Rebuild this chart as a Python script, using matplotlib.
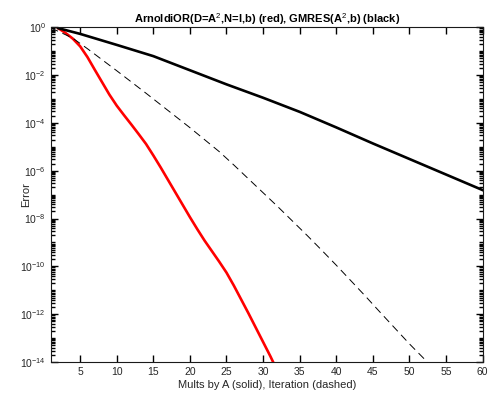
import numpy as np
import matplotlib
matplotlib.use('Agg')
from matplotlib import pyplot as plt
from matplotlib.ticker import LogLocator, NullFormatter

plt.rcParams['font.family'] = ['Liberation Sans', 'DejaVu Sans']
plt.rcParams['mathtext.fontset'] = 'custom'
plt.rcParams['mathtext.rm'] = 'Liberation Sans'
plt.rcParams['mathtext.bf'] = 'Liberation Sans:bold'

# ArnoldiOR (red, solid) - error vs mults by A, log10 values
red_x = [2, 3, 4, 5, 6, 7, 8, 9, 10, 11, 12, 13, 14, 15, 16, 17, 18, 19, 20,
         21, 22, 23, 24, 25, 26, 27, 28, 29, 30, 31, 32]
red_log = [-0.04, -0.24, -0.48, -0.8, -1.25, -1.78, -2.3, -2.82, -3.28,
           -3.68, -4.07, -4.47, -4.88, -5.36, -5.86, -6.38, -6.9, -7.42,
           -7.94, -8.44, -8.92, -9.36, -9.8, -10.26, -10.8, -11.38, -11.96,
           -12.56, -13.16, -13.76, -14.4]

# GMRES (black, solid) - error vs mults by A
blk_x = [2, 5, 10, 15, 20, 25, 30, 35, 40, 45, 50, 55, 60]
blk_log = [-0.04, -0.28, -0.74, -1.21, -1.8, -2.39, -2.95, -3.54,
           -4.19, -4.86, -5.51, -6.16, -6.81]

# GMRES (black, dashed) - error vs iteration
dash_x = [1, 2, 4, 6, 8, 10, 12, 14, 16, 18, 20, 22, 24, 26, 28, 30, 32, 34,
          36, 38, 40, 42, 44, 46, 48, 50, 52, 53]
dash_log = [-0.04, -0.17, -0.46, -0.9, -1.36, -1.82, -2.29, -2.76, -3.24,
            -3.72, -4.2, -4.7, -5.2, -5.76, -6.34, -6.92, -7.5, -8.1, -8.7,
            -9.32, -9.95, -10.6, -11.25, -11.92, -12.58, -13.24, -13.86, -14.2]

fig = plt.figure(figsize=(4.89, 3.94), dpi=100)
ax = fig.add_axes([0.104, 0.081, 0.883, 0.850])

ax.semilogy(red_x, 10.0 ** np.array(red_log), color='red', lw=1.9)
ax.semilogy(blk_x, 10.0 ** np.array(blk_log), color='black', lw=1.9)
ax.semilogy(dash_x, 10.0 ** np.array(dash_log), color='black', lw=0.7,
            dashes=(8, 5))

ax.set_xlim(1, 60)
ax.set_ylim(1e-14, 1)
ax.set_xticks(range(5, 61, 5))
ax.set_yticks([10.0 ** k for k in range(-14, 1, 2)])
ax.yaxis.set_minor_locator(LogLocator(base=10, subs=np.arange(1, 10), numticks=100))
ax.yaxis.set_minor_formatter(NullFormatter())

# ticks inside on all four sides
for axis in (ax.xaxis, ax.yaxis):
    axis.set_tick_params(which='both', direction='in', width=1.0, color='black')
ax.xaxis.set_ticks_position('both')
ax.yaxis.set_ticks_position('both')
ax.tick_params(which='major', length=5, labelsize=7.5, labelcolor='#262626')
ax.tick_params(which='minor', length=3)
for s in ax.spines.values():
    s.set_linewidth(0.8)
    s.set_color('#1a1a1a')

ax.set_title('ArnoldiOR(D=A$^2$,N=I,b) (red), GMRES(A$^2$,b) (black)',
             fontsize=8, fontweight='bold', pad=3)
ax.set_xlabel('Mults by A (solid), Iteration (dashed)', fontsize=8, color='#262626', labelpad=2)
ax.set_ylabel('Error', fontsize=8, color='#262626')
ax.yaxis.set_label_coords(-0.045, 0.5)

plt.savefig('out.png', dpi=100)
